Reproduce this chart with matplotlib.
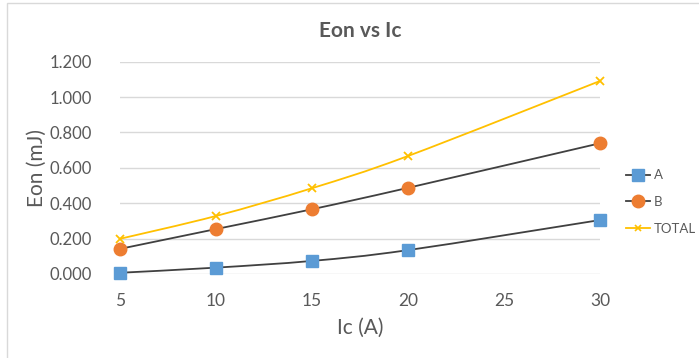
import numpy as np
import matplotlib
matplotlib.use('Agg')
import matplotlib.pyplot as plt
from matplotlib.path import Path
from matplotlib.patches import PathPatch, Rectangle
from matplotlib.lines import Line2D

plt.rcParams['font.family'] = ['Lato', 'DejaVu Sans']

ic = [5, 10, 15, 20, 30]
eon_a = [0.007, 0.036, 0.074, 0.135, 0.305]
eon_b = [0.142, 0.254, 0.366, 0.487, 0.739]
eon_total = [0.199, 0.328, 0.485, 0.667, 1.091]

x_ticks = [5, 10, 15, 20, 25, 30]
y_ticks = [0.0, 0.2, 0.4, 0.6, 0.8, 1.0, 1.2]

blue = '#5B9BD5'
orange = '#ED7D31'
gold = '#FFC000'
dark = '#404040'


def smooth_path(xs, ys):
    # excel style smoothed line: cubic bezier through the points
    pts = np.column_stack([xs, ys]).astype(float)
    verts = [pts[0]]
    codes = [Path.MOVETO]
    n = len(pts)
    for i in range(n - 1):
        p0 = pts[i - 1] if i > 0 else pts[i]
        p1 = pts[i]
        p2 = pts[i + 1]
        p3 = pts[i + 2] if i + 2 < n else pts[i + 1]
        c1 = p1 + (p2 - p0) / 6
        c2 = p2 - (p3 - p1) / 6
        verts += [c1, c2, p2]
        codes += [Path.CURVE4] * 3
    return Path(verts, codes)


fig = plt.figure(figsize=(6.99, 3.58), dpi=100)
ax = fig.add_axes([120 / 699, 1 - 274 / 358, 480 / 699, 212.3 / 358])

ax.add_patch(PathPatch(smooth_path(ic, eon_a), fill=False, color=dark, lw=1.3, zorder=3))
ax.add_patch(PathPatch(smooth_path(ic, eon_b), fill=False, color=dark, lw=1.3, zorder=3))
ax.add_patch(PathPatch(smooth_path(ic, eon_total), fill=False, color=gold, lw=1.3, zorder=3))

ax.plot(ic, eon_a, ls='none', marker='s', ms=9, color=blue, zorder=4, clip_on=False)
ax.plot(ic, eon_b, ls='none', marker='o', ms=9, color=orange, zorder=4, clip_on=False)
ax.plot(ic, eon_total, ls='none', marker='x', ms=6, mew=1.3, color=gold, zorder=4, clip_on=False)

ax.set_xlim(5, 30)
ax.set_ylim(0, 1.2)
ax.set_xticks(x_ticks)
ax.set_yticks(y_ticks)
ax.set_yticklabels([f'{v:.3f}' for v in y_ticks])
ax.tick_params(length=0, labelsize=12.5, colors='#595959')
ax.tick_params(axis='x', pad=14)
ax.tick_params(axis='y', pad=20, labelsize=12)
for s in ax.spines.values():
    s.set_visible(False)
ax.grid(axis='y', color='#D9D9D9', lw=1)
ax.set_axisbelow(True)

ax.set_title('Eon vs Ic', fontsize=15, fontweight='bold', color='#595959', pad=18)
ax.set_xlabel('Ic (A)', fontsize=15, color='#595959', labelpad=6)
ax.set_ylabel('Eon (mJ)', fontsize=15, color='#595959', labelpad=2)

handles = [
    Line2D([], [], color=dark, lw=1.3, marker='s', ms=9, mfc=blue, mec=blue),
    Line2D([], [], color=dark, lw=1.3, marker='o', ms=9, mfc=orange, mec=orange),
    Line2D([], [], color=gold, lw=1.3, marker='x', ms=5, mew=1.2, mec=gold),
]
fig.legend(handles, ['A', 'B', 'TOTAL'], loc='center left',
           bbox_to_anchor=(626 / 699, 1 - 202 / 358), frameon=False,
           fontsize=9.5, handlelength=1.8, handletextpad=0.3, borderpad=0,
           borderaxespad=0, labelspacing=1.1, labelcolor='#595959')

fig.patches.append(Rectangle((7 / 699, -0.1), 1.2, (1 - 3 / 358) + 0.1,
                             transform=fig.transFigure, fill=False,
                             ec='#D9D9D9', lw=1))

fig.savefig('out.png', dpi=100)
